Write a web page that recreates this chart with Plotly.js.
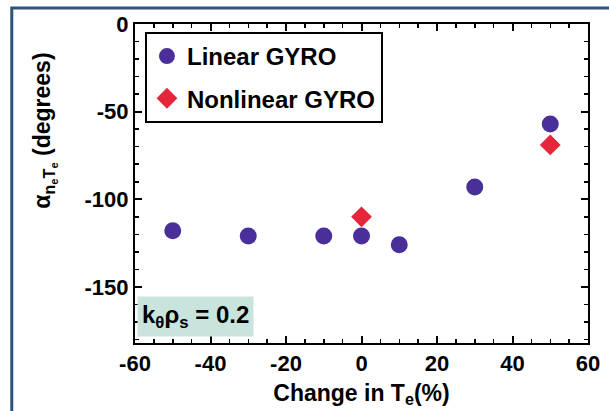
<!DOCTYPE html>
<html><head><meta charset="utf-8">
<script src="https://cdn.plot.ly/plotly-3.0.1.min.js"></script>
<style>html,body{margin:0;padding:0;background:#fff;}#chart{width:609px;height:411px;}</style>
</head><body><div id="chart"></div>
<script>
const linearX = [-50, -30, -10, 0, 10, 30, 50];
const linearY = [-118, -121, -121, -121, -126, -93, -57];
const nonlinearX = [0, 50];
const nonlinearY = [-110, -69];
const xTicks = [-60, -40, -20, 0, 20, 40, 60];
const yTicks = [0, -50, -100, -150];

const FONT = '"Liberation Sans", Arial, sans-serif';

const traces = [
  {x: linearX, y: linearY, type: 'scatter', mode: 'markers', name: 'Linear GYRO', legendgroup: 'a',
   marker: {symbol: 'circle', size: 17, color: '#4a2f9a'}},
  {x: nonlinearX, y: nonlinearY, type: 'scatter', mode: 'markers', name: 'Nonlinear GYRO', legendgroup: 'b',
   marker: {symbol: 'diamond', size: 16, color: '#e5263a'}}
];

const axCommon = {
  showgrid: false, zeroline: false, showline: true, linecolor: '#000', linewidth: 2,
  mirror: 'allticks', ticks: 'inside', ticklen: 7, tickwidth: 2, tickcolor: '#000',
  tickfont: {family: FONT, size: 22, color: '#000', weight: 'bold'}
};

const layout = {
  width: 609, height: 411,
  margin: {l: 135, r: 21, t: 24, b: 68},
  paper_bgcolor: '#fff', plot_bgcolor: '#fff',
  showlegend: true,
  legend: {x: 0.022, y: 0.975, xanchor: 'left', yanchor: 'top',
    bgcolor: '#fff', bordercolor: '#000', borderwidth: 2,
    font: {family: FONT, size: 24, color: '#000', weight: 'bold'},
    traceorder: 'grouped', tracegroupgap: 8, itemwidth: 30},
  xaxis: Object.assign({}, axCommon, {
    range: [-60, 60], tickvals: xTicks, ticktext: xTicks.map(String),
    minor: {dtick: 5, ticks: 'inside', ticklen: 4, tickwidth: 1.5, tickcolor: '#000'},
    title: {text: 'Change in T<sub>e</sub>(%)', standoff: 9,
      font: {family: FONT, size: 23, color: '#000', weight: 'bold'}}
  }),
  yaxis: Object.assign({}, axCommon, {
    range: [-182, 0], tickvals: yTicks, ticktext: yTicks.map(String),
    minor: {dtick: 10, ticks: 'inside', ticklen: 4, tickwidth: 1.5, tickcolor: '#000'}
  }),
  annotations: [{
    xref: 'paper', yref: 'paper', x: 0.005, y: 0.02, xanchor: 'left', yanchor: 'bottom',
    text: 'k<sub>θ</sub>ρ<sub>s</sub> = 0.2', showarrow: false,
    bgcolor: '#c9e4dd', borderpad: 4,
    font: {family: FONT, size: 24, color: '#000', weight: 'bold'}
  }, {
    xref: 'paper', yref: 'paper', x: -0.199, y: 0.665, xanchor: 'center', yanchor: 'middle',
    text: 'α<sub>n<sub>e</sub>T<sub>e</sub></sub> (degrees)', showarrow: false, textangle: -90,
    font: {family: FONT, size: 23, color: '#000', weight: 'bold'}
  }],
  shapes: [{
    type: 'path', xref: 'paper', yref: 'paper',
    path: 'M -0.272,-0.3 L -0.272,1.05 L 1.2,1.05',
    line: {color: '#2e5378', width: 3}
  }]
};

Plotly.newPlot('chart', traces, layout, {displayModeBar: false, staticPlot: true});
</script></body></html>
